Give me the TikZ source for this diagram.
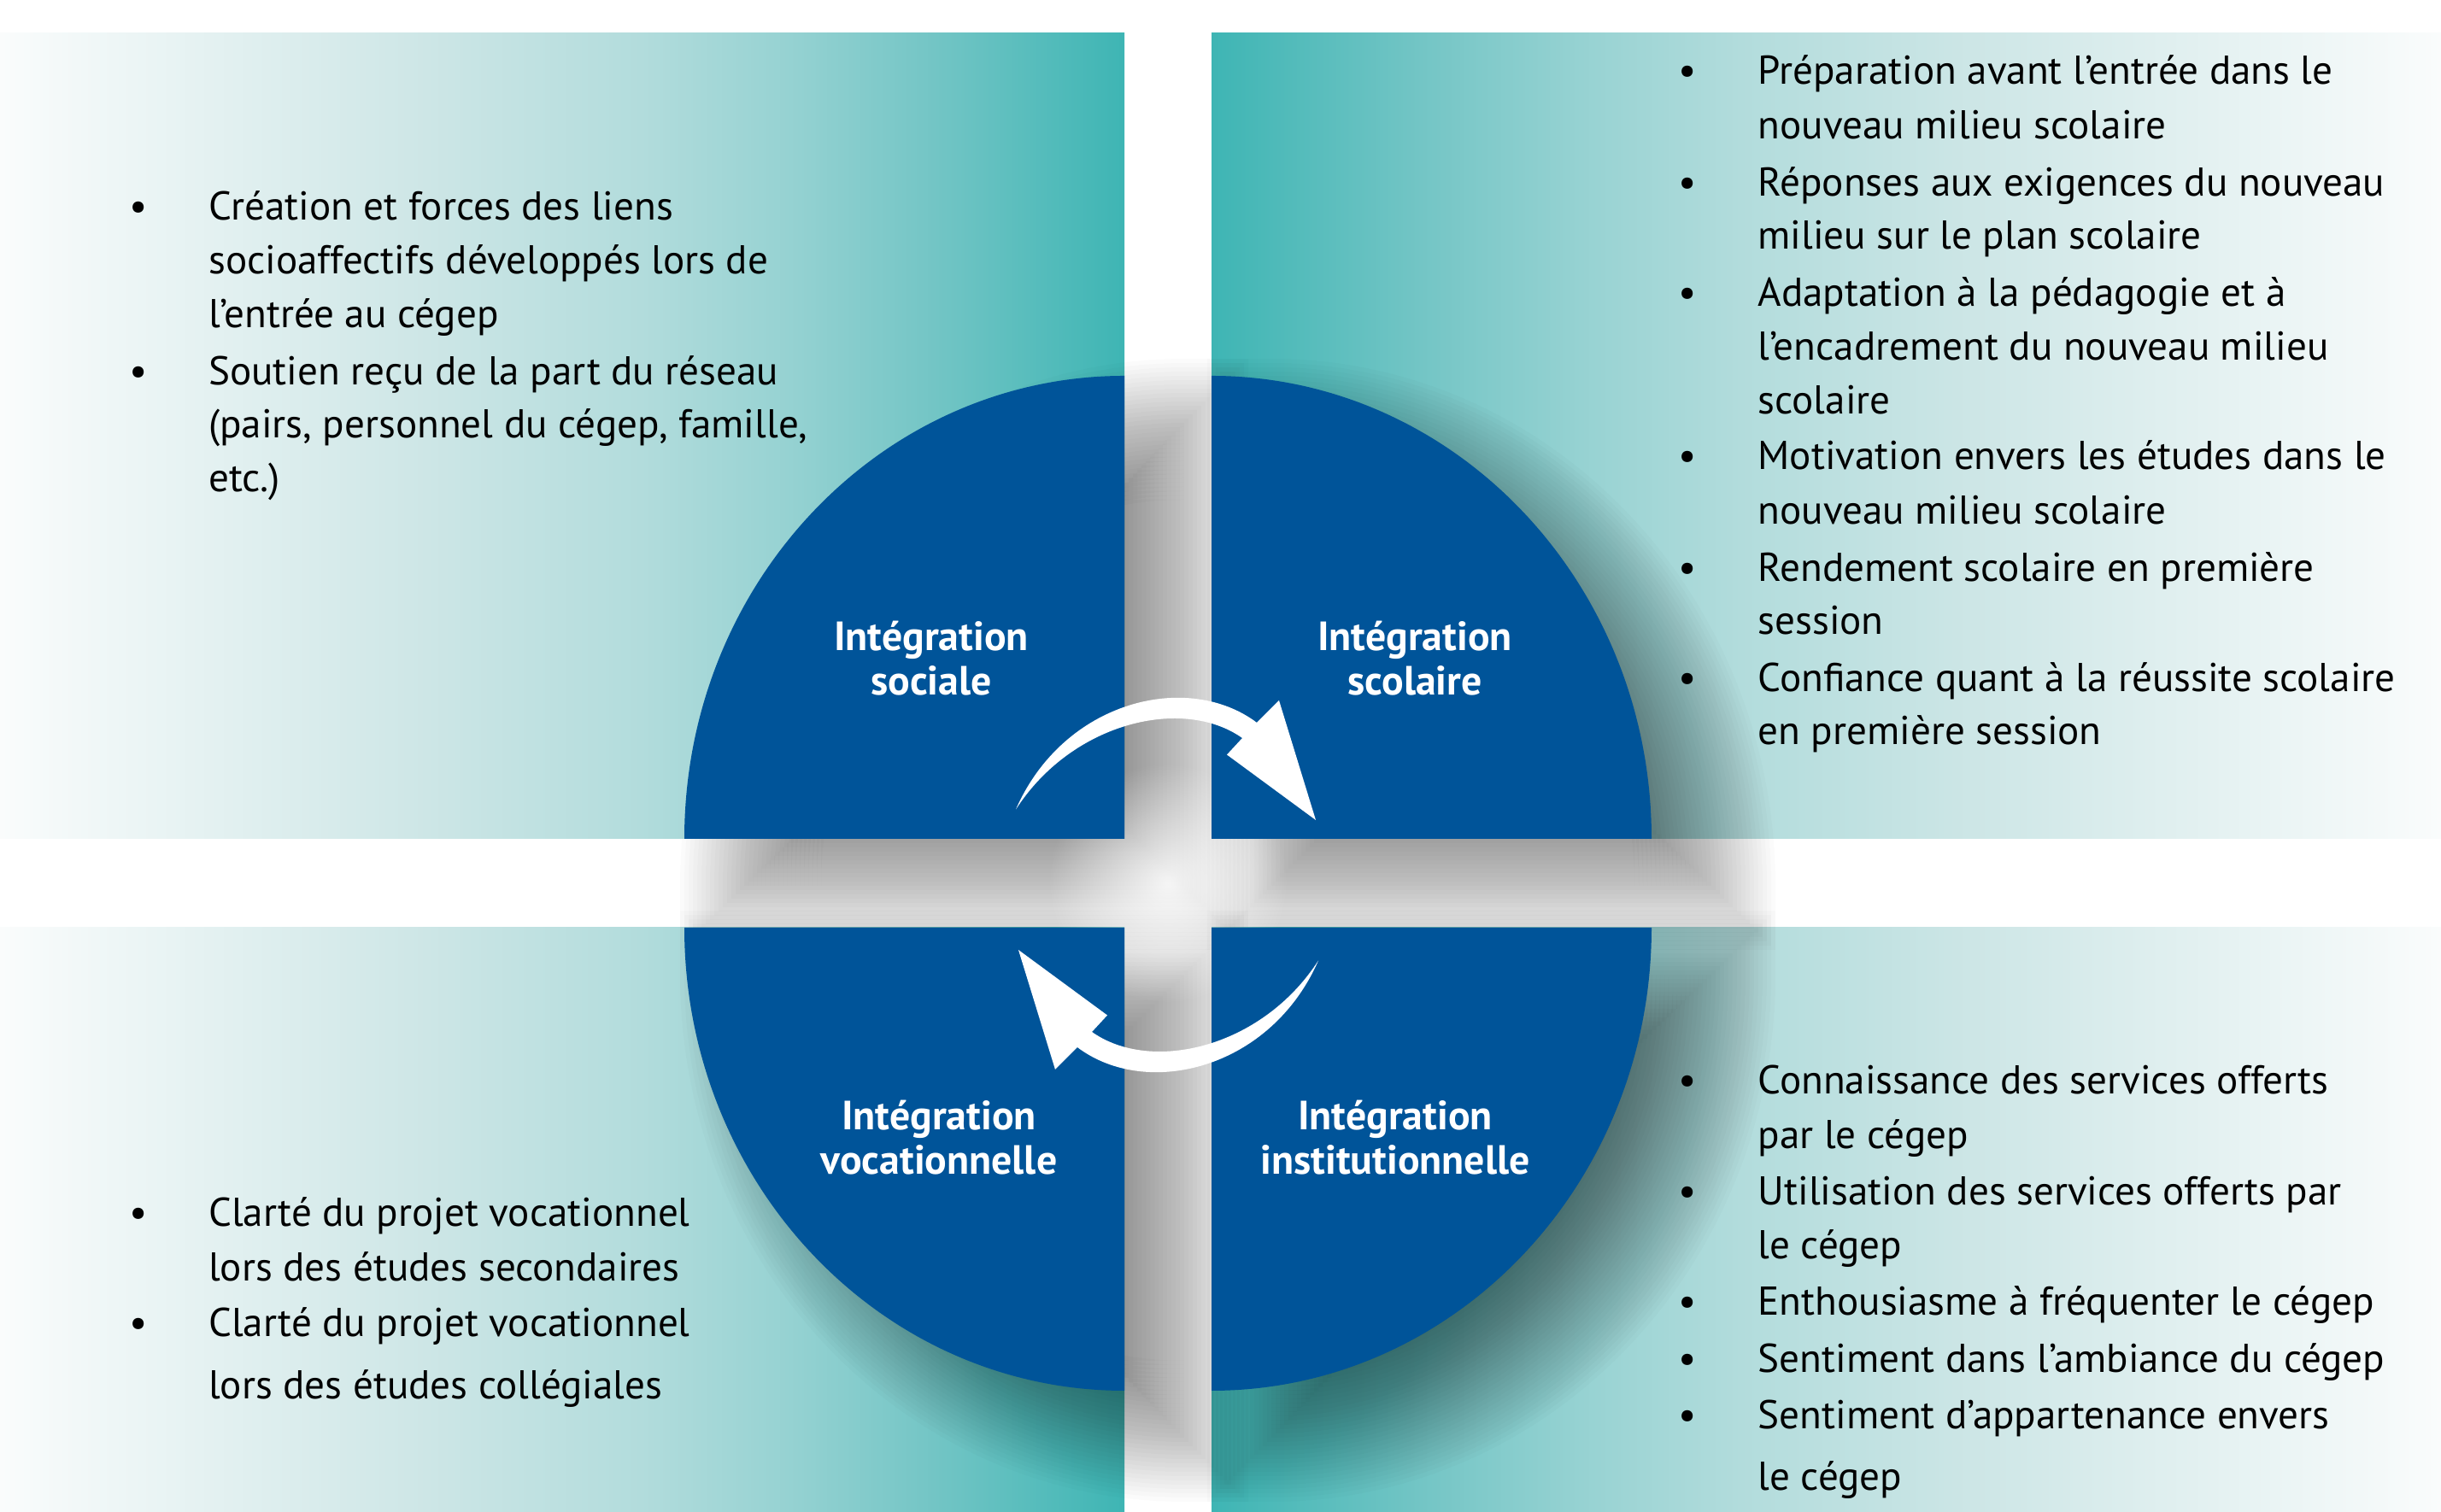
\documentclass[tikz,border=0pt]{standalone}
\usepackage{fontspec}
\setmainfont{PT Sans}
\usetikzlibrary{calc,fadings}
\definecolor{circleblue}{RGB}{0,84,153}
\definecolor{panelwhite}{RGB}{250,252,252}
\definecolor{tealA}{RGB}{205,230,230}
\definecolor{tealB}{RGB}{178,220,220}
\definecolor{tealC}{RGB}{150,210,210}
\definecolor{tealD}{RGB}{115,197,197}
\definecolor{tealE}{RGB}{62,181,180}
\pgfdeclarehorizontalshading{faderight}{100bp}{color(0bp)=(panelwhite); color(25bp)=(panelwhite); color(44bp)=(tealA); color(53.5bp)=(tealB); color(60bp)=(tealC); color(66.5bp)=(tealD); color(75bp)=(tealE); color(100bp)=(tealE)}
\pgfdeclarehorizontalshading{fadeleft}{100bp}{color(0bp)=(tealE); color(25bp)=(tealE); color(33.5bp)=(tealD); color(40bp)=(tealC); color(46.5bp)=(tealB); color(56bp)=(tealA); color(75bp)=(panelwhite); color(100bp)=(panelwhite)}
\tikzfading[name=glowfade, inner color=transparent!0, outer color=transparent!100]
% quarter of the ellipse, grown by #5 (x sign, y sign, start angle, end angle, growth)
\newcommand{\quarterpath}[5]{({-(#1)*(#5)},{-(#2)*(#5)}) -- ({(#1)*(5.15+(#5))},{-(#2)*(#5)}) -- ({(#1)*(5.15+(#5))},0) arc[start angle=#3, end angle=#4, x radius={5.15+(#5)}, y radius={5.42+(#5)}] -- ({-(#1)*(#5)},{(#2)*(5.42+(#5))}) -- cycle}

\begin{document}
\begin{tikzpicture}[turnarrow/.pic={
      \fill[white] (-1.77,0.885) .. controls (-1.21,2.16) and (0.24,2.51) .. (1.05,1.90) -- (1.31,2.16) -- (1.74,0.76) -- (0.70,1.525) -- (0.88,1.72) .. controls (0.19,2.21) and (-1.11,1.91) .. (-1.77,0.885) -- cycle;}]
      \tikzstyle{quarter}=[fill=circleblue]
      \tikzstyle{shadowlayer}=[fill=black,fill opacity=0.014]
      \tikzstyle{itemtext}=[anchor=base west,inner sep=0pt,font=\fontsize{13.4}{16}\selectfont]
      \tikzstyle{bulletmark}=[anchor=base,inner sep=0pt,font=\fontsize{13.4}{16}\selectfont]
      \tikzstyle{quarterlabel}=[align=center,inner sep=0pt,text=white,font=\fontsize{13.6}{14.8}\selectfont\bfseries]

      \fill[white] (0,0) rectangle (28.57,17.70);
      \useasboundingbox (0,0) rectangle (28.57,17.70);

      % panels
      \shade[shading=faderight] (0,7.88) rectangle (13.16,17.31);
      \shade[shading=fadeleft] (14.18,7.88) rectangle (28.57,17.31);
      \shade[shading=faderight] (0,0) rectangle (13.16,6.84);
      \shade[shading=fadeleft] (14.18,0) rectangle (28.57,6.84);

      \coordinate (ctl) at (13.16,7.88);
      \coordinate (ctr) at (14.18,7.88);
      \coordinate (cbl) at (13.16,6.84);
      \coordinate (cbr) at (14.18,6.84);
      \coordinate (cross) at (13.67,7.36);
      \coordinate (pivot) at (13.66,7.34);

      % shadows
      \foreach \k in {-0.9,-0.85,...,0.77} {
        \fill[shadowlayer,shift={($(ctl)+(0.7,-0.55)$)}] \quarterpath{-1}{1}{180}{90}{\k};
        \fill[shadowlayer,shift={($(ctr)+(0.7,-0.55)$)}] \quarterpath{1}{1}{0}{90}{\k};
        \fill[shadowlayer,shift={($(cbl)+(0.7,-0.55)$)}] \quarterpath{-1}{-1}{180}{270}{\k};
        \fill[shadowlayer,shift={($(cbr)+(0.7,-0.55)$)}] \quarterpath{1}{-1}{0}{-90}{\k};
      }
      \fill[white,fill opacity=0.85,path fading=glowfade] (cross) circle (1.4);

      % quarters
      \fill[quarter,shift={(ctl)}] \quarterpath{-1}{1}{180}{90}{0};
      \fill[quarter,shift={(ctr)}] \quarterpath{1}{1}{0}{90}{0};
      \fill[quarter,shift={(cbl)}] \quarterpath{-1}{-1}{180}{270}{0};
      \fill[quarter,shift={(cbr)}] \quarterpath{1}{-1}{0}{-90}{0};

      % arrows
      \pic at (pivot) {turnarrow};
      \pic[rotate=180] at (pivot) {turnarrow};

      % labels
      \node[quarterlabel] (sociale) at (10.90,9.99) {Intégration\\sociale};
      \node[quarterlabel] (scolaire) at (16.56,9.99) {Intégration\\scolaire};
      \node[quarterlabel] (vocation) at (10.99,4.38) {Intégration\\vocationnelle};
      \node[quarterlabel] (institution) at (16.33,4.38) {Intégration\\institutionnelle};

      % lists
      \foreach \y/\t [count=\i] in {15.12/Création et forces des liens, 14.49/socioaffectifs développés lors de, 13.86/l’entrée au cégep, 13.19/Soutien reçu de la part du réseau, {12.57/(pairs, personnel du cégep, famille,}, 11.94/etc.)}
        \node[itemtext] (tl\i) at (2.435,\y) {\t};
      \foreach \y/\t [count=\i] in {16.71/Préparation avant l’entrée dans le, 16.07/nouveau milieu scolaire, 15.40/Réponses aux exigences du nouveau, 14.785/milieu sur le plan scolaire, 14.11/Adaptation à la pédagogie et à, 13.48/l’encadrement du nouveau milieu, 12.85/scolaire, 12.20/Motivation envers les études dans le, 11.56/nouveau milieu scolaire, 10.895/Rendement scolaire en première, 10.27/session, 9.60/Confiance quant à la réussite scolaire, 8.98/en première session}
        \node[itemtext] (tr\i) at (20.57,\y) {\t};
      \foreach \y/\t [count=\i] in {3.34/Clarté du projet vocationnel, 2.70/lors des études secondaires, 2.05/Clarté du projet vocationnel, 1.32/lors des études collégiales}
        \node[itemtext] (bl\i) at (2.435,\y) {\t};
      \foreach \y/\t [count=\i] in {4.89/Connaissance des services offerts, 4.25/par le cégep, 3.59/Utilisation des services offerts par, 2.96/le cégep, 2.30/Enthousiasme à fréquenter le cégep, 1.633/Sentiment dans l’ambiance du cégep, 0.97/Sentiment d’appartenance envers, 0.25/le cégep}
        \node[itemtext] (br\i) at (20.57,\y) {\t};

      % bullets
      \foreach \y [count=\i] in {15.12,13.19,3.34,2.05}
        \node[bulletmark] (lb\i) at (1.62,\y) {•};
      \foreach \y [count=\i] in {16.71,15.40,14.11,12.20,10.895,9.60,4.89,3.59,2.30,1.633,0.97}
        \node[bulletmark] (rb\i) at (19.75,\y) {•};
    \end{tikzpicture}
\end{document}
